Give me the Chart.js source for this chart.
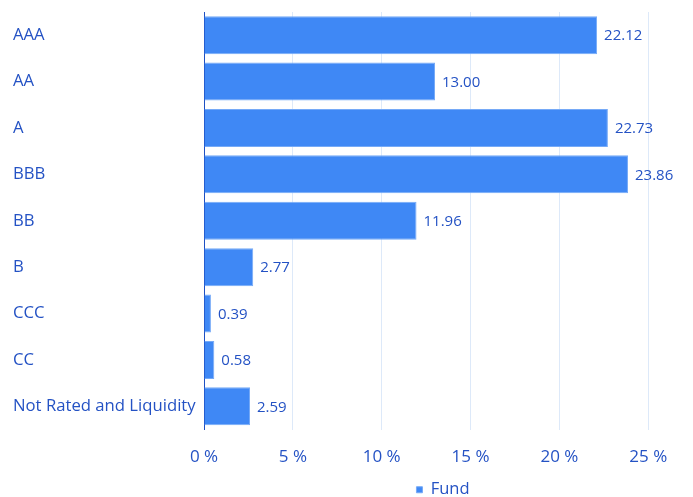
<!DOCTYPE html>
<html>
<head>
<meta charset="utf-8">
<script src="https://cdn.jsdelivr.net/npm/chart.js@4.4.1/dist/chart.umd.min.js"></script>
<style>
  html, body { margin: 0; padding: 0; background: #fff; }
  #wrap { width: 693px; height: 497px; }
</style>
</head>
<body>
<div id="wrap"><canvas id="canvas" width="693" height="497"></canvas></div>
<script>
// chart data
var categories = ['AAA', 'AA', 'A', 'BBB', 'BB', 'B', 'CCC', 'CC', 'Not Rated and Liquidity'];
var fundValues = [22.12, 13.00, 22.73, 23.86, 11.96, 2.77, 0.39, 0.58, 2.59];
var xTicks = [0, 5, 10, 15, 20, 25];
var seriesName = 'Fund';

var textColor = '#2452c4';

// draws the value next to the end of each bar
var valueLabels = {
    id: 'valueLabels',
    afterDatasetsDraw: function(chart){
        var ctx = chart.ctx;
        ctx.save();
        ctx.font = '15px "Open Sans"';
        ctx.fillStyle = textColor;
        ctx.textBaseline = 'middle';
        ctx.textAlign = 'left';
        chart.data.datasets.forEach(function(ds, i){
            var meta = chart.getDatasetMeta(i);
            meta.data.forEach(function(bar, j){
                ctx.fillText(ds.data[j].toFixed(2), bar.x + 7, bar.y + 1);
            });
        });
        ctx.restore();
    }
};

var ctx = document.getElementById('canvas').getContext('2d');
var myChart = new Chart(ctx, {
    type: 'bar',
    data: {
        labels: categories,
        datasets: [
            {
                label: seriesName,
                data: fundValues,
                backgroundColor: '#3f88f5',
                borderColor: '#76aaf7',
                borderWidth: 1,
                barPercentage: 0.9,
                categoryPercentage: 0.91
            }
        ]
    },
    options: {
        indexAxis: 'y',
        responsive: false,
        animation: false,
        layout: { padding: { top: 12, left: 13, right: 11, bottom: -11 } },
        scales: {
            x: {
                min: 0,
                max: 26.9,
                afterBuildTicks: function(scale){
                    scale.ticks = xTicks.map(function(v){ return { value: v }; });
                },
                afterFit: function(scale){ scale.height = 52; },
                ticks: {
                    color: textColor,
                    font: { family: 'Open Sans', size: 17 },
                    padding: 17,
                    callback: function(v){ return v + ' %'; }
                },
                grid: { color: '#dde9f9', drawTicks: false },
                border: { display: false }
            },
            y: {
                afterFit: function(scale){
                    scale.width = 191;
                    scale.paddingTop = 0;
                    scale.paddingBottom = 0;
                },
                ticks: {
                    color: textColor,
                    font: { family: 'Open Sans', size: 16.7 },
                    crossAlign: 'far',
                    padding: 7
                },
                grid: { display: false, drawTicks: false },
                border: { display: true, color: '#1d4fc2', width: 1 }
            }
        },
        plugins: {
            legend: {
                position: 'bottom',
                fullSize: false,
                labels: {
                    color: textColor,
                    font: { family: 'Open Sans', size: 16.5 },
                    usePointStyle: true,
                    pointStyle: 'rect',
                    boxWidth: 6,
                    boxHeight: 6,
                    padding: 0
                }
            },
            tooltip: { enabled: false }
        }
    },
    plugins: [valueLabels]
});
</script>
</body>
</html>
